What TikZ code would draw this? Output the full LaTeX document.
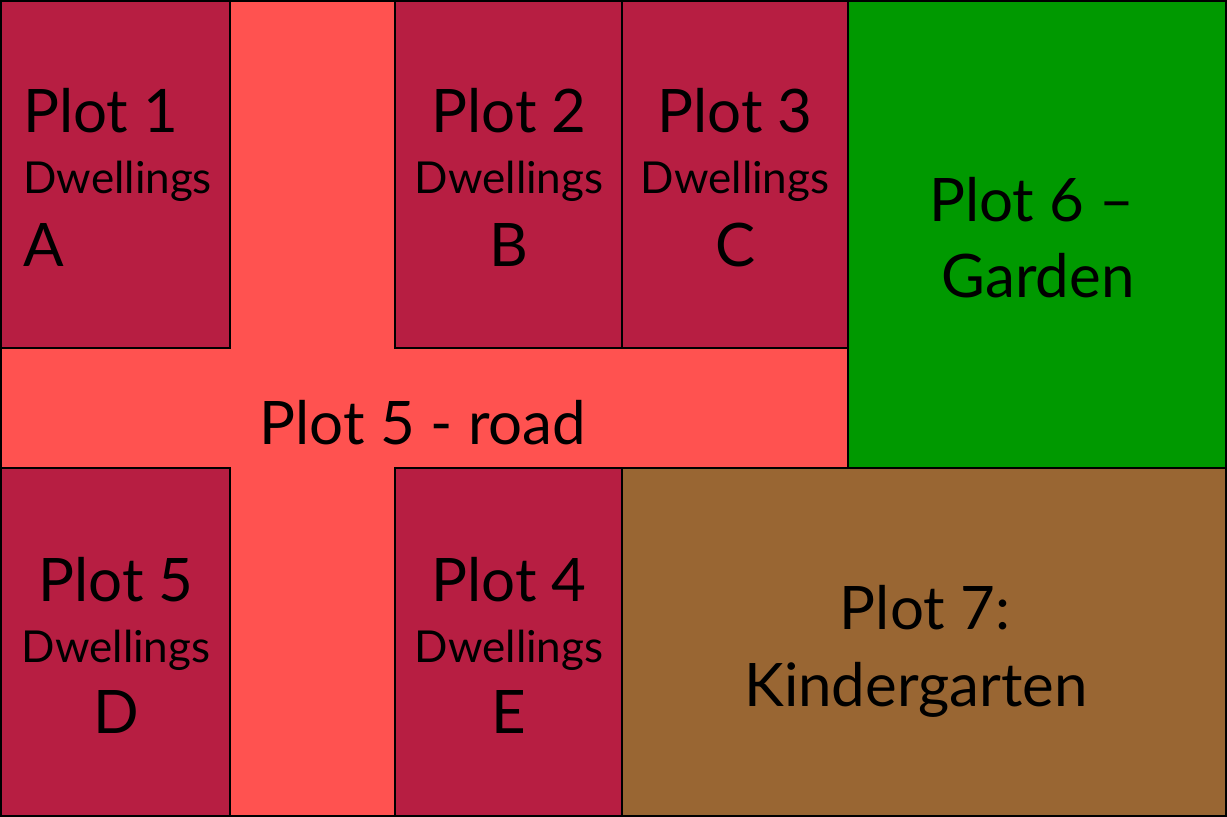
\documentclass[tikz,border=0pt]{standalone}
\usepackage{fontspec}
\setmainfont{Lato}
\definecolor{dwell}{HTML}{B71E42}
\definecolor{road}{HTML}{FF5250}
\definecolor{garden}{HTML}{009900}
\definecolor{kinder}{HTML}{996633}
\tikzset{
  plotbox/.style={draw=black,line width=2pt},
  big/.style={font=\fontsize{60}{70}\selectfont,inner sep=0pt},
  small/.style={font=\fontsize{44}{52}\selectfont,inner sep=0pt},
}
\begin{document}
\begin{tikzpicture}[x=1pt,y=-1pt]
\useasboundingbox (0,0) rectangle (1227,817);
% road (background cross)
\fill[road] (1,1) rectangle (1226,816);
% dwellings
\draw[plotbox,fill=dwell] (1,1) rectangle (230,348);
\draw[plotbox,fill=dwell] (395,1) rectangle (622,348);
\draw[plotbox,fill=dwell] (622,1) rectangle (848,348);
\draw[plotbox,fill=dwell] (1,468) rectangle (230,816);
\draw[plotbox,fill=dwell] (395,468) rectangle (622,816);
% garden and kindergarten
\draw[plotbox,fill=garden] (848,1) rectangle (1226,468);
\draw[plotbox,fill=kinder] (622,468) rectangle (1226,816);
% road outline
\draw[plotbox] (230,1) -- (395,1);
\draw[plotbox] (1,348) -- (1,468);
\draw[plotbox] (230,816) -- (395,816);
% texts
\node[big,anchor=base west] (p1) at (23,132) {Plot 1};
\node[small,anchor=base west] (p1d) at (23,193) {Dwellings};
\node[big,anchor=base west] (p1l) at (23,266) {A};
\node[big,anchor=base] (p2) at (509,132) {Plot 2};
\node[small,anchor=base] (p2d) at (509,193) {Dwellings};
\node[big,anchor=base] (p2l) at (509,266) {B};
\node[big,anchor=base] (p3) at (735,132) {Plot 3};
\node[small,anchor=base] (p3d) at (735,193) {Dwellings};
\node[big,anchor=base] (p3l) at (736,266) {C};
\node[big,anchor=base] (p5) at (116,601) {Plot 5};
\node[small,anchor=base] (p5d) at (116,662) {Dwellings};
\node[big,anchor=base] (p5l) at (116,733) {D};
\node[big,anchor=base] (p4) at (509,601) {Plot 4};
\node[small,anchor=base] (p4d) at (509,662) {Dwellings};
\node[big,anchor=base] (p4l) at (509,733) {E};
\node[big,anchor=base] (road) at (423,444) {Plot 5 - road};
\node[big,anchor=base] (p6) at (1032,221) {Plot 6 –};
\node[big,anchor=base] (p6g) at (1038,297) {Garden};
\node[big,anchor=base] (p7) at (925,629) {Plot 7:};
\node[big,anchor=base] (p7k) at (916,706) {Kindergarten};
\end{tikzpicture}
\end{document}
